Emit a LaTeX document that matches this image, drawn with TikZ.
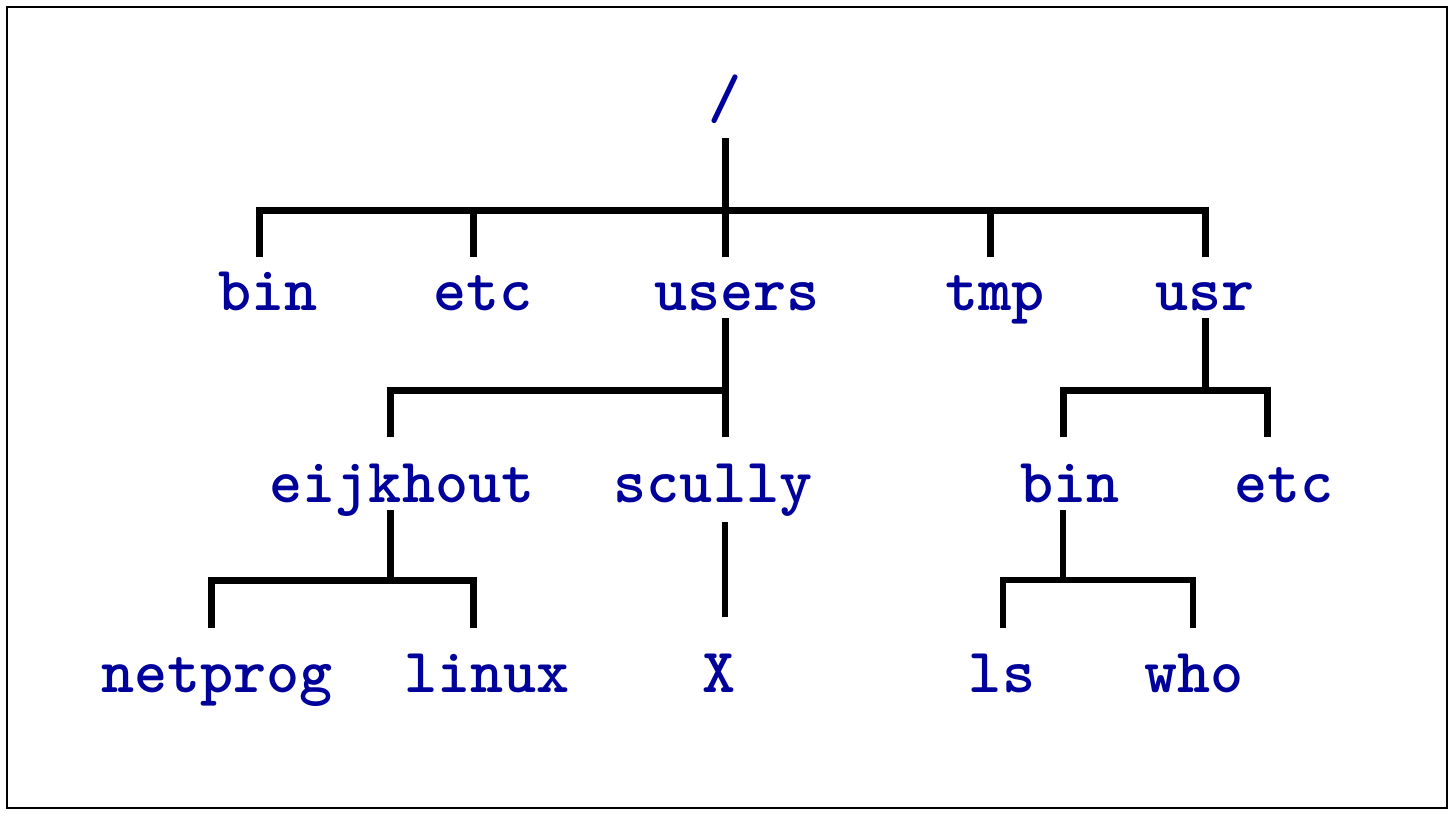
\documentclass[tikz,border=0pt]{standalone}
\usepackage{fontspec}
\definecolor{dirblue}{RGB}{0,0,155}
\tikzset{
  dirname/.style={font=\fontsize{63}{63}\selectfont\ttfamily\bfseries, text=dirblue, anchor=base, inner sep=0pt},
  treeline/.style={line width=7pt, line cap=butt, draw=black},
  thinline/.style={line width=5.5pt, line cap=butt, draw=black},
  frameline/.style={line width=2pt, draw=black}
}
\begin{document}
\begin{tikzpicture}[x=1pt,y=-1pt]
\useasboundingbox (0,0) rectangle (1454,816);
\draw[frameline] (7,7) rectangle (1447,808);

% nodes
\node[dirname] (root) at (725,118) {/};
\node[dirname] (bin) at (268,310) {bin};
\node[dirname] (etc) at (483,310) {etc};
\node[dirname] (users) at (737,310) {users};
\node[dirname] (tmp) at (995,310) {tmp};
\node[dirname] (usr) at (1205,310) {usr};
\node[dirname] (eijkhout) at (402,502) {eijkhout};
\node[dirname] (scully) at (713,502) {scully};
\node[dirname] (ubin) at (1070,502) {bin};
\node[dirname] (uetc) at (1284,502) {etc};
\node[dirname] (netprog) at (217,692) {netprog};
\node[dirname] (linux) at (487,692) {linux};
\node[dirname] (X) at (719,692) {X};
\node[dirname] (ls) at (1002,692) {ls};
\node[dirname] (who) at (1194,692) {who};

% junction coordinates
\coordinate (rootTop) at (725,138);
\coordinate (rootJ) at (725,210);
\coordinate (binT) at (259,257);
\coordinate (etcT) at (473,257);
\coordinate (usersT) at (725,257);
\coordinate (tmpT) at (990,257);
\coordinate (usrT) at (1205,257);

\coordinate (usersB) at (725,318);
\coordinate (usersJ) at (725,390);
\coordinate (eijT) at (390,437);
\coordinate (scuT) at (725,437);

\coordinate (usrB) at (1205,318);
\coordinate (usrJ) at (1205,390);
\coordinate (ubinT) at (1063,437);
\coordinate (uetcT) at (1267,437);

\coordinate (eijB) at (390,510);
\coordinate (eijJ) at (390,580);
\coordinate (netT) at (211,628);
\coordinate (linT) at (473,628);

\coordinate (scuB) at (725,522);
\coordinate (xT) at (725,617);

\coordinate (ubinB) at (1063,510);
\coordinate (ubinJ) at (1063,580);
\coordinate (lsT) at (1003,628);
\coordinate (whoT) at (1193,628);

% root level
\draw[treeline] (rootTop) -- (rootJ);
\draw[treeline] (binT) |- (rootJ -| usrT) -- (usrT);
\draw[treeline] (etcT |- rootJ) -- (etcT);
\draw[treeline] (rootJ) -- (usersT);
\draw[treeline] (tmpT |- rootJ) -- (tmpT);

% users
\draw[treeline] (usersB) -- (usersJ);
\draw[treeline] (eijT) |- (usersJ) -- (scuT);

% usr
\draw[treeline] (usrB) -- (usrJ);
\draw[treeline] (ubinT) |- (uetcT |- usrJ) -- (uetcT);

% eijkhout
\draw[treeline] (eijB) -- (eijJ);
\draw[treeline] (netT) |- (linT |- eijJ) -- (linT);

% scully
\draw[thinline] (scuB) -- (xT);

% usr/bin
\draw[thinline] (ubinB) -- (ubinJ);
\draw[thinline] (lsT) |- (whoT |- ubinJ) -- (whoT);
\end{tikzpicture}
\end{document}
